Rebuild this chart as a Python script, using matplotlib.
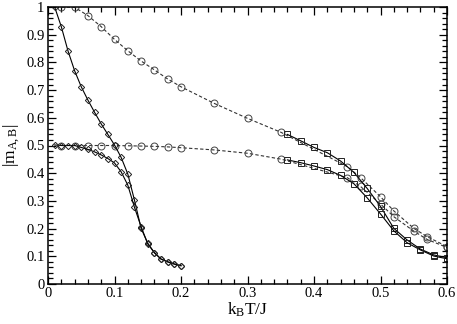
import matplotlib
matplotlib.use("Agg")
import matplotlib.pyplot as plt
from matplotlib.ticker import MultipleLocator

# Diamonds (solid), T = 0.01 .. 0.20
T_dia = [0.01, 0.02, 0.03, 0.04, 0.05, 0.06, 0.07, 0.08, 0.09, 0.10,
         0.11, 0.12, 0.13, 0.14, 0.15, 0.16, 0.17, 0.18, 0.19, 0.20]
mA_dia = [1.0, 0.929, 0.842, 0.770, 0.712, 0.664, 0.620, 0.578, 0.540, 0.502,
          0.457, 0.397, 0.303, 0.201, 0.147, 0.113, 0.090, 0.080, 0.072, 0.066]
mB_dia = [0.502, 0.500, 0.500, 0.500, 0.493, 0.486, 0.477, 0.466, 0.453, 0.437,
          0.405, 0.357, 0.277, 0.207, 0.145, 0.113, 0.090, 0.080, 0.072, 0.066]

# Circles (dashed)
T_cir = [0.02, 0.04, 0.06, 0.08, 0.10, 0.12, 0.14, 0.16, 0.18, 0.20,
         0.25, 0.30, 0.35, 0.45, 0.47, 0.50, 0.52, 0.55, 0.57, 0.60]
mA_cir = [1.0, 0.999, 0.969, 0.929, 0.883, 0.842, 0.805, 0.773, 0.740, 0.712,
          0.652, 0.598, 0.548, 0.424, 0.384, 0.315, 0.264, 0.201, 0.171, 0.135]
mB_cir = [0.500, 0.500, 0.500, 0.500, 0.500, 0.499, 0.498, 0.497, 0.495, 0.492,
          0.484, 0.472, 0.451, 0.384, 0.352, 0.289, 0.243, 0.191, 0.161, 0.132]

# Squares (solid)
T_sq = [0.36, 0.38, 0.40, 0.42, 0.44, 0.46, 0.48, 0.50, 0.52, 0.54, 0.56, 0.58, 0.60]
mA_sq = [0.540, 0.517, 0.493, 0.474, 0.444, 0.403, 0.345, 0.280, 0.201, 0.159, 0.126, 0.105, 0.095]
mB_sq = [0.448, 0.438, 0.426, 0.413, 0.392, 0.362, 0.311, 0.253, 0.192, 0.149, 0.123, 0.101, 0.091]

plt.rcParams['font.family'] = ['Liberation Serif', 'DejaVu Serif']
plt.rcParams['mathtext.fontset'] = 'custom'
plt.rcParams['mathtext.rm'] = 'Liberation Serif'
plt.rcParams['mathtext.it'] = 'Liberation Serif'

fig = plt.figure(figsize=(4.57, 3.24), dpi=100)
ax = fig.add_axes([48/457, 1 - 284/324, 399/457, 277/324])

lw = 0.8
dkw = dict(color='black', lw=lw, ls='-', marker='D', ms=3.2, mfc='none', mec='#222222', mew=0.7)
ckw = dict(color='#333333', lw=lw, ls=(0, (3, 2)), marker='o', ms=5, mfc='none', mec='#444444', mew=0.7)
skw = dict(color='black', lw=lw, ls='-', marker='s', ms=4, mfc='none', mec='#222222', mew=0.7)

ax.plot(T_cir, mA_cir, **ckw)
ax.plot(T_cir, mB_cir, **ckw)
ax.plot(T_dia, mA_dia, **dkw)
ax.plot(T_dia, mB_dia, **dkw)
ax.plot(T_sq, mA_sq, **skw)
ax.plot(T_sq, mB_sq, **skw)

ax.set_xlim(0, 0.6)
ax.set_ylim(0, 1)
ax.xaxis.set_minor_locator(MultipleLocator(0.02))
ax.yaxis.set_minor_locator(MultipleLocator(0.02))
ax.set_xticks([0, 0.1, 0.2, 0.3, 0.4, 0.5, 0.6])
ax.set_xticklabels(['0', '0.1', '0.2', '0.3', '0.4', '0.5', '0.6'])
ax.set_yticks([0, 0.1, 0.2, 0.3, 0.4, 0.5, 0.6, 0.7, 0.8, 0.9, 1.0])
ax.set_yticklabels(['0', '0.1', '0.2', '0.3', '0.4', '0.5', '0.6', '0.7', '0.8', '0.9', '1'])
ax.tick_params(which='both', direction='in', top=True, right=True, width=0.9, labelsize=10.5)
ax.tick_params(which='major', length=6, pad=2.5)
ax.tick_params(which='minor', length=3.5)
for s in ax.spines.values():
    s.set_linewidth(1.1)

ax.set_xlabel(r'k$_\mathrm{B}$T/J', fontsize=12.5)
ax.set_ylabel(r'|m$_\mathrm{A,B}$|', fontsize=12.5)
ax.xaxis.set_label_coords(0.5, -0.06)
ax.yaxis.set_label_coords(-0.065, 0.5)

fig.savefig('out.png', dpi=100)
